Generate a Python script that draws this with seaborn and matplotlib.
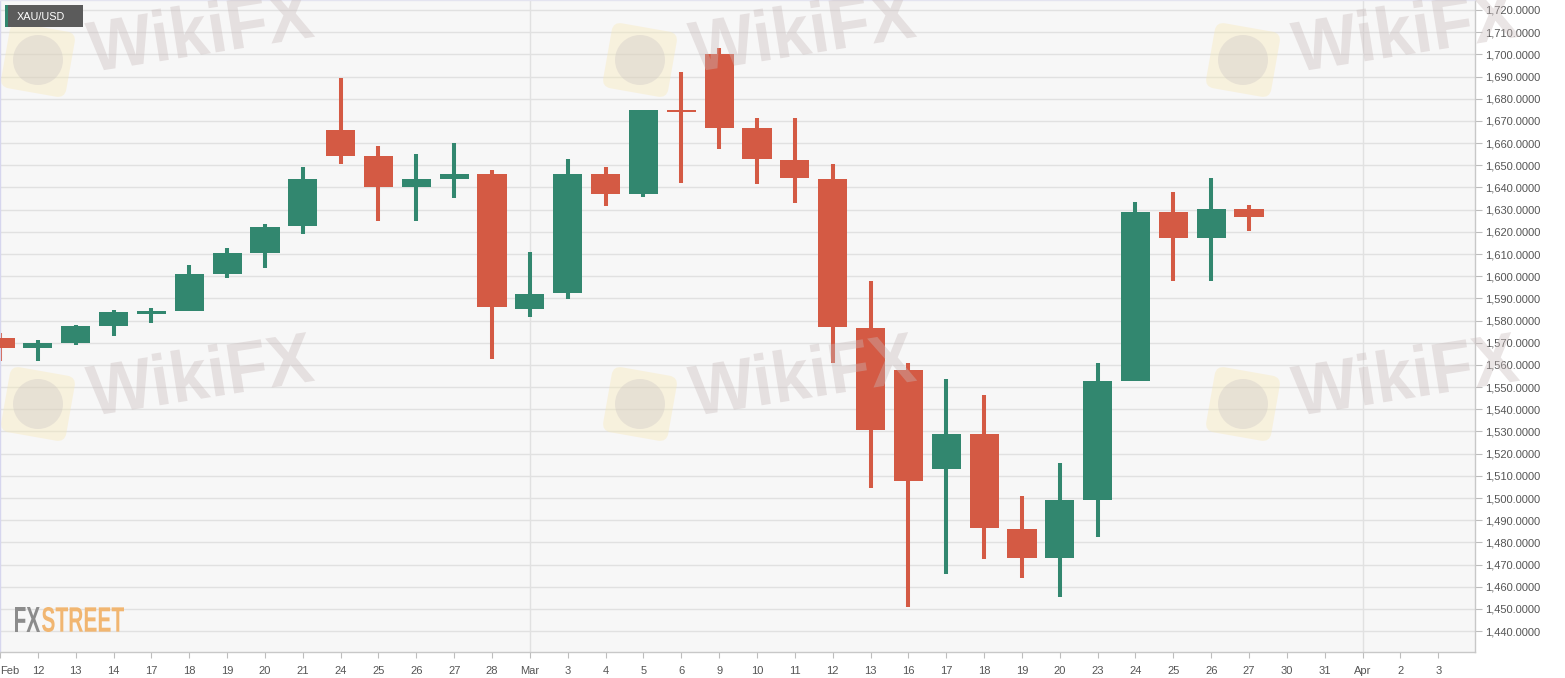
import numpy as np
import pandas as pd
import matplotlib
matplotlib.use("Agg")
import matplotlib.pyplot as plt
import seaborn as sns
from matplotlib.ticker import FuncFormatter, MultipleLocator
from matplotlib.patches import Rectangle, PathPatch, Circle, FancyBboxPatch
from matplotlib.textpath import TextPath
from matplotlib.font_manager import FontProperties
from matplotlib.transforms import Affine2D

# XAU/USD daily candles, 11 Feb - 27 Mar
dates = ["Feb 11", "Feb 12", "Feb 13", "Feb 14", "Feb 17", "Feb 18", "Feb 19", "Feb 20", "Feb 21",
         "Feb 24", "Feb 25", "Feb 26", "Feb 27", "Feb 28", "Mar 2", "Mar 3", "Mar 4", "Mar 5", "Mar 6",
         "Mar 9", "Mar 10", "Mar 11", "Mar 12", "Mar 13", "Mar 16", "Mar 17", "Mar 18", "Mar 19",
         "Mar 20", "Mar 23", "Mar 24", "Mar 25", "Mar 26", "Mar 27"]
opens = [1572.0, 1567.5, 1570.0, 1577.5, 1583.1, 1584.4, 1601.1, 1610.6, 1622.5,
         1665.9, 1654.0, 1640.1, 1643.8, 1645.9, 1585.1, 1592.3, 1645.9, 1636.9, 1674.9,
         1700.3, 1666.7, 1652.5, 1643.9, 1576.8, 1557.7, 1513.1, 1528.8, 1486.2,
         1473.1, 1499.1, 1552.9, 1628.8, 1617.1, 1630.1]
highs = [1574.2, 1571.2, 1578.1, 1584.7, 1585.6, 1605.0, 1612.7, 1623.5, 1649.1,
         1689.2, 1658.7, 1655.1, 1660.0, 1647.9, 1610.9, 1652.8, 1649.1, 1674.9, 1692.0,
         1702.9, 1671.3, 1671.3, 1650.6, 1597.8, 1560.7, 1553.6, 1546.4, 1500.9,
         1515.9, 1561.0, 1633.4, 1637.9, 1644.3, 1632.1]
lows = [1561.9, 1561.8, 1569.0, 1573.2, 1578.9, 1584.2, 1599.3, 1603.8, 1619.1,
        1650.7, 1625.0, 1625.0, 1635.4, 1562.8, 1581.7, 1589.8, 1631.8, 1635.8, 1642.1,
        1657.5, 1641.7, 1633.1, 1560.8, 1504.6, 1451.0, 1465.9, 1472.6, 1464.0,
        1455.5, 1482.5, 1552.9, 1598.0, 1598.0, 1620.4]
closes = [1567.5, 1570.0, 1577.5, 1583.8, 1584.4, 1601.0, 1610.4, 1622.2, 1643.7,
          1654.2, 1640.1, 1643.8, 1645.9, 1586.1, 1592.1, 1645.9, 1636.9, 1674.8, 1674.2,
          1666.8, 1652.7, 1644.1, 1577.1, 1530.5, 1507.5, 1528.8, 1486.3, 1473.1,
          1499.1, 1552.9, 1628.8, 1617.1, 1630.1, 1626.5]

# axis labels, one per trading day (incl. empty days after the data)
tick_labels = ["Feb", "12", "13", "14", "17", "18", "19", "20", "21", "24", "25", "26", "27", "28",
               "Mar", "3", "4", "5", "6", "9", "10", "11", "12", "13", "16", "17", "18", "19", "20",
               "23", "24", "25", "26", "27", "30", "31", "Apr", "2", "3"]
month_starts = [14, 36]

GREEN = "#32876f"
RED = "#d45a44"
W, H = 1565, 678

sns.set_theme(style="white")
plt.rcParams['font.family'] = ['Liberation Sans', 'DejaVu Sans']

df = pd.DataFrame({"date": dates, "open": opens, "high": highs, "low": lows, "close": closes})
df["x"] = np.arange(len(df))
df["up"] = df["close"] >= df["open"]
df["color"] = np.where(df["up"], GREEN, RED)
df["body_low"] = df[["open", "close"]].min(axis=1)
df["body_h"] = (df["close"] - df["open"]).abs().clip(lower=0.6)

fig = plt.figure(figsize=(W / 100, H / 100), dpi=100)
ax = fig.add_axes([0, 26 / H, 1475 / W, 652 / H])
ax.set_facecolor("#f7f7f7")

# candles
ax.vlines(df["x"], df["low"], df["high"], colors=df["color"], lw=2.9, zorder=2)
ax.bar(df["x"], df["body_h"], bottom=df["body_low"], width=0.77, color=df["color"],
       linewidth=0, zorder=3)

ax.set_xlim(0, 38.97)
ax.set_ylim(1430.6, 1724.5)

# grid
ax.yaxis.set_major_locator(MultipleLocator(10))
ax.grid(axis="y", color="#e1e1e1", lw=1, zorder=0)
ax.grid(axis="x", visible=False)
for m in month_starts:
    ax.axvline(m, color="#e1e1e1", lw=1, zorder=0)

# y axis on the right
ax.yaxis.tick_right()
ax.yaxis.set_major_formatter(FuncFormatter(lambda v, p: f"{v:,.4f}"))
ax.tick_params(axis="y", right=True, direction="out", length=5, width=0.8, color="#bdbdbd",
               labelsize=8, labelcolor="#555555", pad=2)

# x axis
ax.set_xticks(range(len(tick_labels)))
ax.set_xticklabels(tick_labels)
ax.tick_params(axis="x", bottom=True, direction="out", length=4, width=0.8, color="#bdbdbd",
               labelsize=8, labelcolor="#555555", pad=6)
ax.get_xticklabels()[0].set_horizontalalignment("left")

for side, col in [("top", "#e4e4f0"), ("left", "#d6d6ee"), ("right", "#c8c8c8"), ("bottom", "#c8c8c8")]:
    ax.spines[side].set_color(col)
    ax.spines[side].set_linewidth(1)

# pixel coords (origin top-left) -> figure
px = Affine2D().scale(1, -1).translate(0, H).scale(1 / W, 1 / H) + fig.transFigure


def add_word(txt, x0, y0, w, h, color, weight="bold", rot=0, alpha=1.0, z=30):
    """draw text as a path squeezed into a w x h pixel box (x0,y0 = bottom-left, pixels from top-left)"""
    tp = TextPath((0, 0), txt, size=1, prop=FontProperties(family="Liberation Sans", weight=weight))
    ext = tp.get_extents()
    tr = (Affine2D().translate(-ext.x0, -ext.y0)
          .scale(w / ext.width, h / ext.height)
          .rotate_deg(rot)
          .translate(x0, H - y0)
          .scale(1 / W, 1 / H) + fig.transFigure)
    fig.add_artist(PathPatch(tp, transform=tr, facecolor=color, edgecolor="none", alpha=alpha,
                             zorder=z))


# FXSTREET logo
add_word("FX", 15, 632, 25, 25, "#8c8c8c")
add_word("STREET", 42, 632, 82, 25, "#f1b671")

# WikiFX watermarks
for cx in [0, 602, 1205]:
    for cy in [0, 344]:
        add_word("WikiFX", 92 + cx, 72 + cy, 226, 52, "#c9bbbb", rot=9, alpha=0.38)
        icx, icy = 38 + cx, 60 + cy
        rot = Affine2D().rotate_deg_around(icx, icy, 10) + px
        fig.add_artist(FancyBboxPatch((icx - 33, icy - 33), 66, 66,
                                      boxstyle="round,pad=0,rounding_size=9", transform=rot,
                                      facecolor="#f7e9b8", edgecolor="none", alpha=0.4, zorder=29))
        fig.add_artist(Circle((icx, icy), 25, transform=px, facecolor="#cbc4c4",
                              edgecolor="none", alpha=0.35, zorder=30))

# symbol tag (drawn above the watermark)
fig.add_artist(Rectangle((5, 5), 78, 22, transform=px, facecolor="#5b5b5b",
                         edgecolor="none", zorder=40))
fig.add_artist(Rectangle((5, 5), 2.5, 22, transform=px, facecolor=GREEN,
                         edgecolor="none", zorder=41))
fig.text(17 / W, 1 - 16.5 / H, "XAU/USD", color="white", fontsize=7.8, va="center", ha="left",
         zorder=42)

fig.savefig("out.png", dpi=100, facecolor="white")
